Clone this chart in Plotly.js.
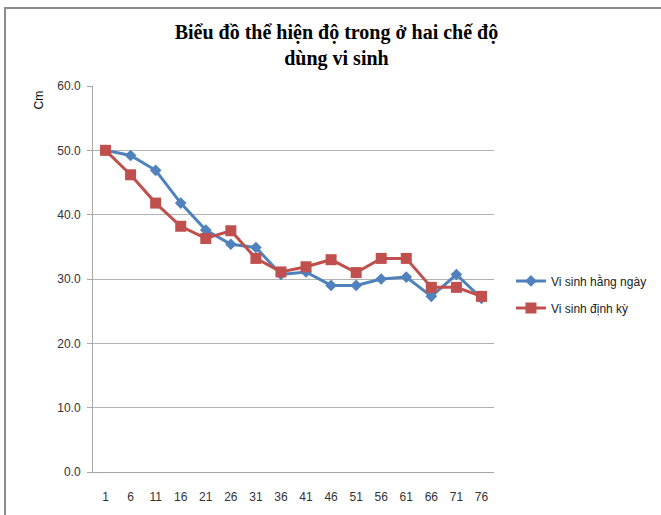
<!DOCTYPE html>
<html><head><meta charset="utf-8">
<script src="https://cdn.plot.ly/plotly-3.0.1.min.js"></script>
<style>
html,body{margin:0;padding:0;background:#fff;}
#wrap{position:relative;width:661px;height:515px;overflow:hidden;}
#chart{position:absolute;left:0;top:0;width:661px;height:515px;}
#frame{position:absolute;left:4px;top:7px;width:700px;height:600px;border-left:2px solid #8c8c8c;border-top:2px solid #8c8c8c;pointer-events:none;}
</style></head>
<body>
<div id="wrap"><div id="chart"></div><div id="frame"></div></div>
<script>
const categories = ['1','6','11','16','21','26','31','36','41','46','51','56','61','66','71','76'];
const hangNgay = [50.0,49.2,46.9,41.8,37.6,35.4,34.9,30.7,31.1,29.0,29.0,30.0,30.3,27.3,30.7,27.0];
const dinhKy   = [50.0,46.2,41.8,38.2,36.3,37.5,33.2,31.1,31.9,33.0,31.0,33.2,33.2,28.7,28.7,27.3];
const seriesNames = ['Vi sinh hằng ngày','Vi sinh định kỳ'];
const yTicks = [0,10,20,30,40,50,60];

const traces = [
  {x: categories, y: hangNgay, name: seriesNames[0], legendgroup: 'a', type: 'scatter', mode: 'lines+markers',
   line: {color: '#4F81BD', width: 3}, marker: {symbol: 'diamond', size: 9, color: '#4F81BD'}},
  {x: categories, y: dinhKy, name: seriesNames[1], legendgroup: 'b', type: 'scatter', mode: 'lines+markers',
   line: {color: '#C0504D', width: 3}, marker: {symbol: 'square', size: 11, color: '#C0504D'}}
];

const layout = {
  width: 661, height: 515,
  margin: {l: 93, r: 167, t: 86, b: 43},
  paper_bgcolor: '#fff', plot_bgcolor: '#fff',
  font: {family: 'Liberation Sans, Arial, sans-serif', size: 12, color: '#333'},
  title: {text: '<b>Biểu đồ thể hiện độ trong ở hai chế độ<br>dùng vi sinh</b>',
    font: {family: 'Liberation Serif, Times New Roman, serif', size: 20, color: '#000'},
    x: 0.509, xref: 'container', xanchor: 'center', y: 0.925, yref: 'container', yanchor: 'top'},
  xaxis: {type: 'category', categoryorder: 'array', categoryarray: categories, range: [-0.5, 15.5],
    showline: true, linecolor: '#a6a6a6', linewidth: 1, showgrid: false, zeroline: false,
    ticks: '', ticklabelstandoff: 14, tickfont: {size: 12, color: '#333'}, fixedrange: true},
  yaxis: {range: [0, 60], tickvals: yTicks, tickformat: '.1f',
    showline: true, linecolor: '#a6a6a6', linewidth: 1,
    showgrid: true, gridcolor: '#b3b3b3', gridwidth: 1, zeroline: false,
    ticks: 'outside', ticklen: 5, tickcolor: '#a6a6a6', ticklabelstandoff: 4,
    tickfont: {size: 12, color: '#333'}},
  legend: {xref: 'container', x: 0.773, xanchor: 'left', yref: 'paper', y: 0.46, yanchor: 'middle',
    font: {size: 12, color: '#222'}, bgcolor: 'rgba(0,0,0,0)', tracegroupgap: 8},
  annotations: [{text: 'Cm', textangle: -90, xref: 'paper', yref: 'paper', x: -0.135, y: 0.965,
    xanchor: 'center', yanchor: 'middle', showarrow: false, font: {size: 12, color: '#000'}}],
  showlegend: true
};
Plotly.newPlot('chart', traces, layout, {displayModeBar: false, staticPlot: true});
</script>
</body></html>
